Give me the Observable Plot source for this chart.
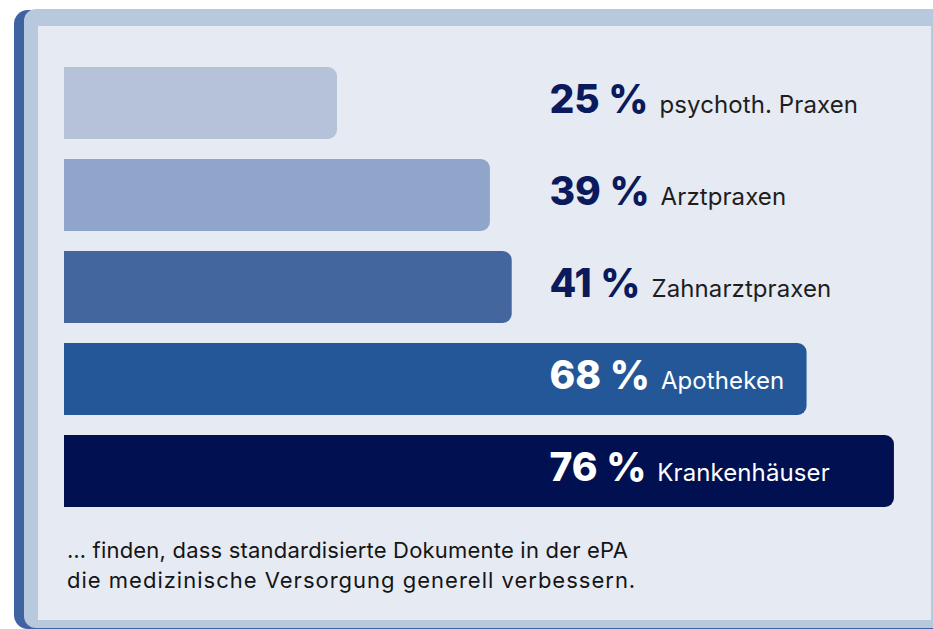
<!DOCTYPE html>
<html>
<head>
<meta charset="utf-8">
<script src="https://cdn.jsdelivr.net/npm/d3@7"></script>
<script src="https://cdn.jsdelivr.net/npm/@observablehq/plot@0.6"></script>
<style>
  html, body { margin: 0; padding: 0; background: #ffffff; width: 933px; height: 629px; overflow: hidden; font-family: Inter, "Noto Sans", sans-serif; }
  .dark { position: absolute; left: 14px; top: 10px; width: 960px; height: 619px; background: #3f63a1; border-radius: 14px; }
  .light { position: absolute; left: 24px; top: 9px; width: 960px; height: 619px; background: #b9c9dd; border-radius: 12px; }
  .panel { position: absolute; left: 38px; top: 26px; width: 893px; height: 594px; background: #e6eaf3; }
  #chart { position: absolute; left: 0; top: 0; }
  .caption { position: absolute; left: 67px; top: 535px; font-size: 22px; line-height: 30px; color: #151515; }
  .l1 { letter-spacing: 0.2px; }
  .l2 { letter-spacing: 1px; }
</style>
</head>
<body>
<div class="dark"></div>
<div class="light"></div>
<div class="panel"></div>
<div id="chart"></div>
<div class="caption"><span class="l1">… finden, dass standardisierte Dokumente in der ePA</span><br><span class="l2">die medizinische Versorgung generell verbessern.</span></div>
<script>
const categories = ["psychoth. Praxen", "Arztpraxen", "Zahnarztpraxen", "Apotheken", "Krankenhäuser"];
const values = [25, 39, 41, 68, 76];
const barColors = ["#b5c2da", "#8fa5c9", "#44669f", "#245798", "#001050"];
const navy = "#0b1a5c";

const data = categories.map((c, i) => ({category: c, value: values[i]}));
const numberColor = (d, i) => (i >= 3 ? "#ffffff" : navy);

const plot = Plot.plot({
  width: 933,
  height: 629,
  marginTop: 0, marginBottom: 0, marginLeft: 64, marginRight: 0,
  style: {background: "transparent", fontFamily: "Inter, 'Noto Sans', sans-serif"},
  x: {domain: [0, 100], range: [64, 1156], axis: null},
  y: {domain: categories, range: [66, 508], paddingInner: 0.222, paddingOuter: 0, axis: null},
  color: {type: "identity"},
  marks: [
    Plot.barX(data, {x1: 0, x2: "value", y: "category", fill: (d, i) => barColors[i], rx: 9}),
    Plot.barX(data, {x1: 0, x2: d => d.value / 2, y: "category", fill: (d, i) => barColors[i]}),
    Plot.text(data, {
      y: "category", frameAnchor: "left", dx: 485, dy: -3,
      text: d => `${d.value} %`, textAnchor: "start", lineAnchor: "middle",
      fontSize: 39, fontWeight: 800, fill: numberColor
    })
  ]
});
document.getElementById("chart").appendChild(plot);

d3.select(plot).selectAll('g[aria-label="text"] text').each(function(_, i) {
  const t = d3.select(this);
  const num = t.text();
  t.text(null);
  t.append("tspan").text(num);
  t.append("tspan")
    .attr("dx", 11)
    .attr("font-size", 24)
    .attr("font-weight", 400)
    .attr("letter-spacing", 0.1)
    .attr("fill", i >= 3 ? "#ffffff" : "#1e1e1e")
    .text(categories[i]);
});
</script>
</body>
</html>
